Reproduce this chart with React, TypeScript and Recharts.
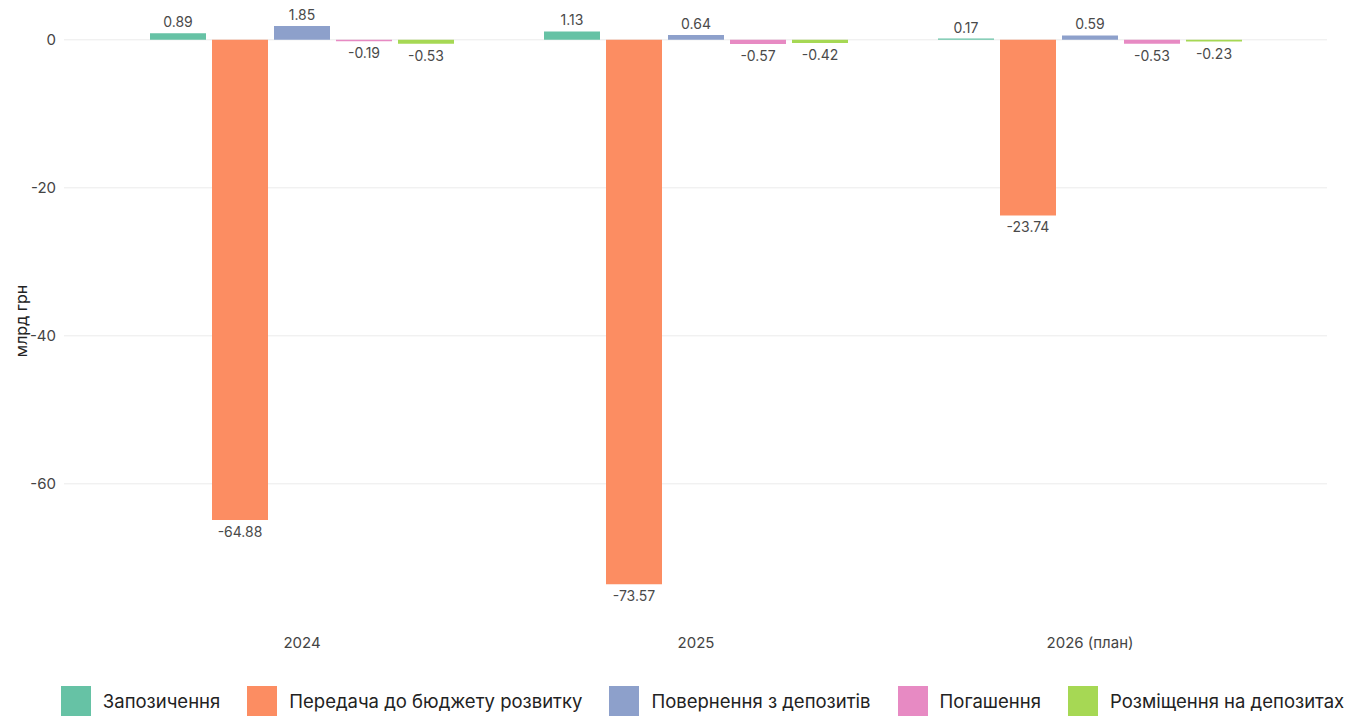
import { BarChart, Bar, XAxis, YAxis, CartesianGrid, Legend, LabelList } from 'recharts';

// категорії та серії (млрд грн)
const years = ['2024', '2025', '2026 (план)'];
const borrowing = [0.89, 1.13, 0.17];
const transfer = [-64.88, -73.57, -23.74];
const depositReturn = [1.85, 0.64, 0.59];
const repayment = [-0.19, -0.57, -0.53];
const depositPlacement = [-0.53, -0.42, -0.23];
const yTicks = [-60, -40, -20, 0];

const series = [
  { key: 'borrowing', name: 'Запозичення', color: '#66c2a5', values: borrowing },
  { key: 'transfer', name: 'Передача до бюджету розвитку', color: '#fc8d62', values: transfer },
  { key: 'depositReturn', name: 'Повернення з депозитів', color: '#8da0cb', values: depositReturn },
  { key: 'repayment', name: 'Погашення', color: '#e78ac3', values: repayment },
  { key: 'depositPlacement', name: 'Розміщення на депозитах', color: '#a6d854', values: depositPlacement },
];

const data = years.map((year, i) => {
  const row: any = { year };
  series.forEach((s) => { row[s.key] = s.values[i]; });
  return row;
});

const FONT = 'Inter, "Noto Sans", sans-serif';

// підпис над додатним стовпцем, під від'ємним
function ValueLabel(props: any) {
  const { x, y, width, height, value } = props;
  if (value == null) return null;
  const top = Math.min(y, y + height);
  const bottom = Math.max(y, y + height);
  const cx = x + width / 2;
  const ty = value >= 0 ? top - 6 : bottom + 17;
  return (
    <text x={cx} y={ty} textAnchor="middle" fill="#4a4a4a" fontSize={14} fontFamily={FONT}>
      {value.toFixed(2)}
    </text>
  );
}

function LegendBox() {
  return (
    <div style={{ display: 'flex', justifyContent: 'center', gap: 27, paddingLeft: 36, fontFamily: FONT }}>
      {series.map((s) => (
        <div key={s.key} style={{ display: 'flex', alignItems: 'center', gap: 12 }}>
          <span style={{ width: 30, height: 30, background: s.color, display: 'inline-block' }} />
          <span style={{ fontSize: 18.5, color: '#222' }}>{s.name}</span>
        </div>
      ))}
    </div>
  );
}

export default function App() {
  return (
    <div style={{ position: 'absolute', top: 0, left: 0, width: 1369, height: 716, background: '#fff', overflow: 'hidden' }}>
      <BarChart
        width={1369}
        height={716}
        data={data}
        margin={{ top: 25, right: 42, left: 0, bottom: 69 }}
        barSize={56}
        barGap={6}
      >
        <CartesianGrid vertical={false} stroke="#ececec" horizontalValues={yTicks} />
        <XAxis
          dataKey="year"
          height={30}
          axisLine={false}
          tickLine={false}
          padding={{ left: 41, right: 40 }}
          tick={{ fill: '#444', fontSize: 15, fontFamily: FONT }}
          tickMargin={14}
        />
        <YAxis
          width={64}
          domain={[-78, 2]}
          ticks={yTicks}
          axisLine={false}
          tickLine={false}
          tick={{ fill: '#444', fontSize: 15, fontFamily: FONT }}
          label={{ value: 'млрд грн', angle: -90, position: 'insideLeft', offset: 21, style: { fill: '#222', fontSize: 16, fontFamily: FONT, textAnchor: 'middle' } }}
        />
        <Legend
          layout="horizontal"
          verticalAlign="middle"
          align="center"
          wrapperStyle={{ top: 686, left: 0, width: 1369 }}
          content={() => <LegendBox />}
        />
        {series.map((s) => (
          <Bar key={s.key} dataKey={s.key} name={s.name} fill={s.color} isAnimationActive={false}>
            <LabelList dataKey={s.key} content={<ValueLabel />} />
          </Bar>
        ))}
      </BarChart>
    </div>
  );
}
